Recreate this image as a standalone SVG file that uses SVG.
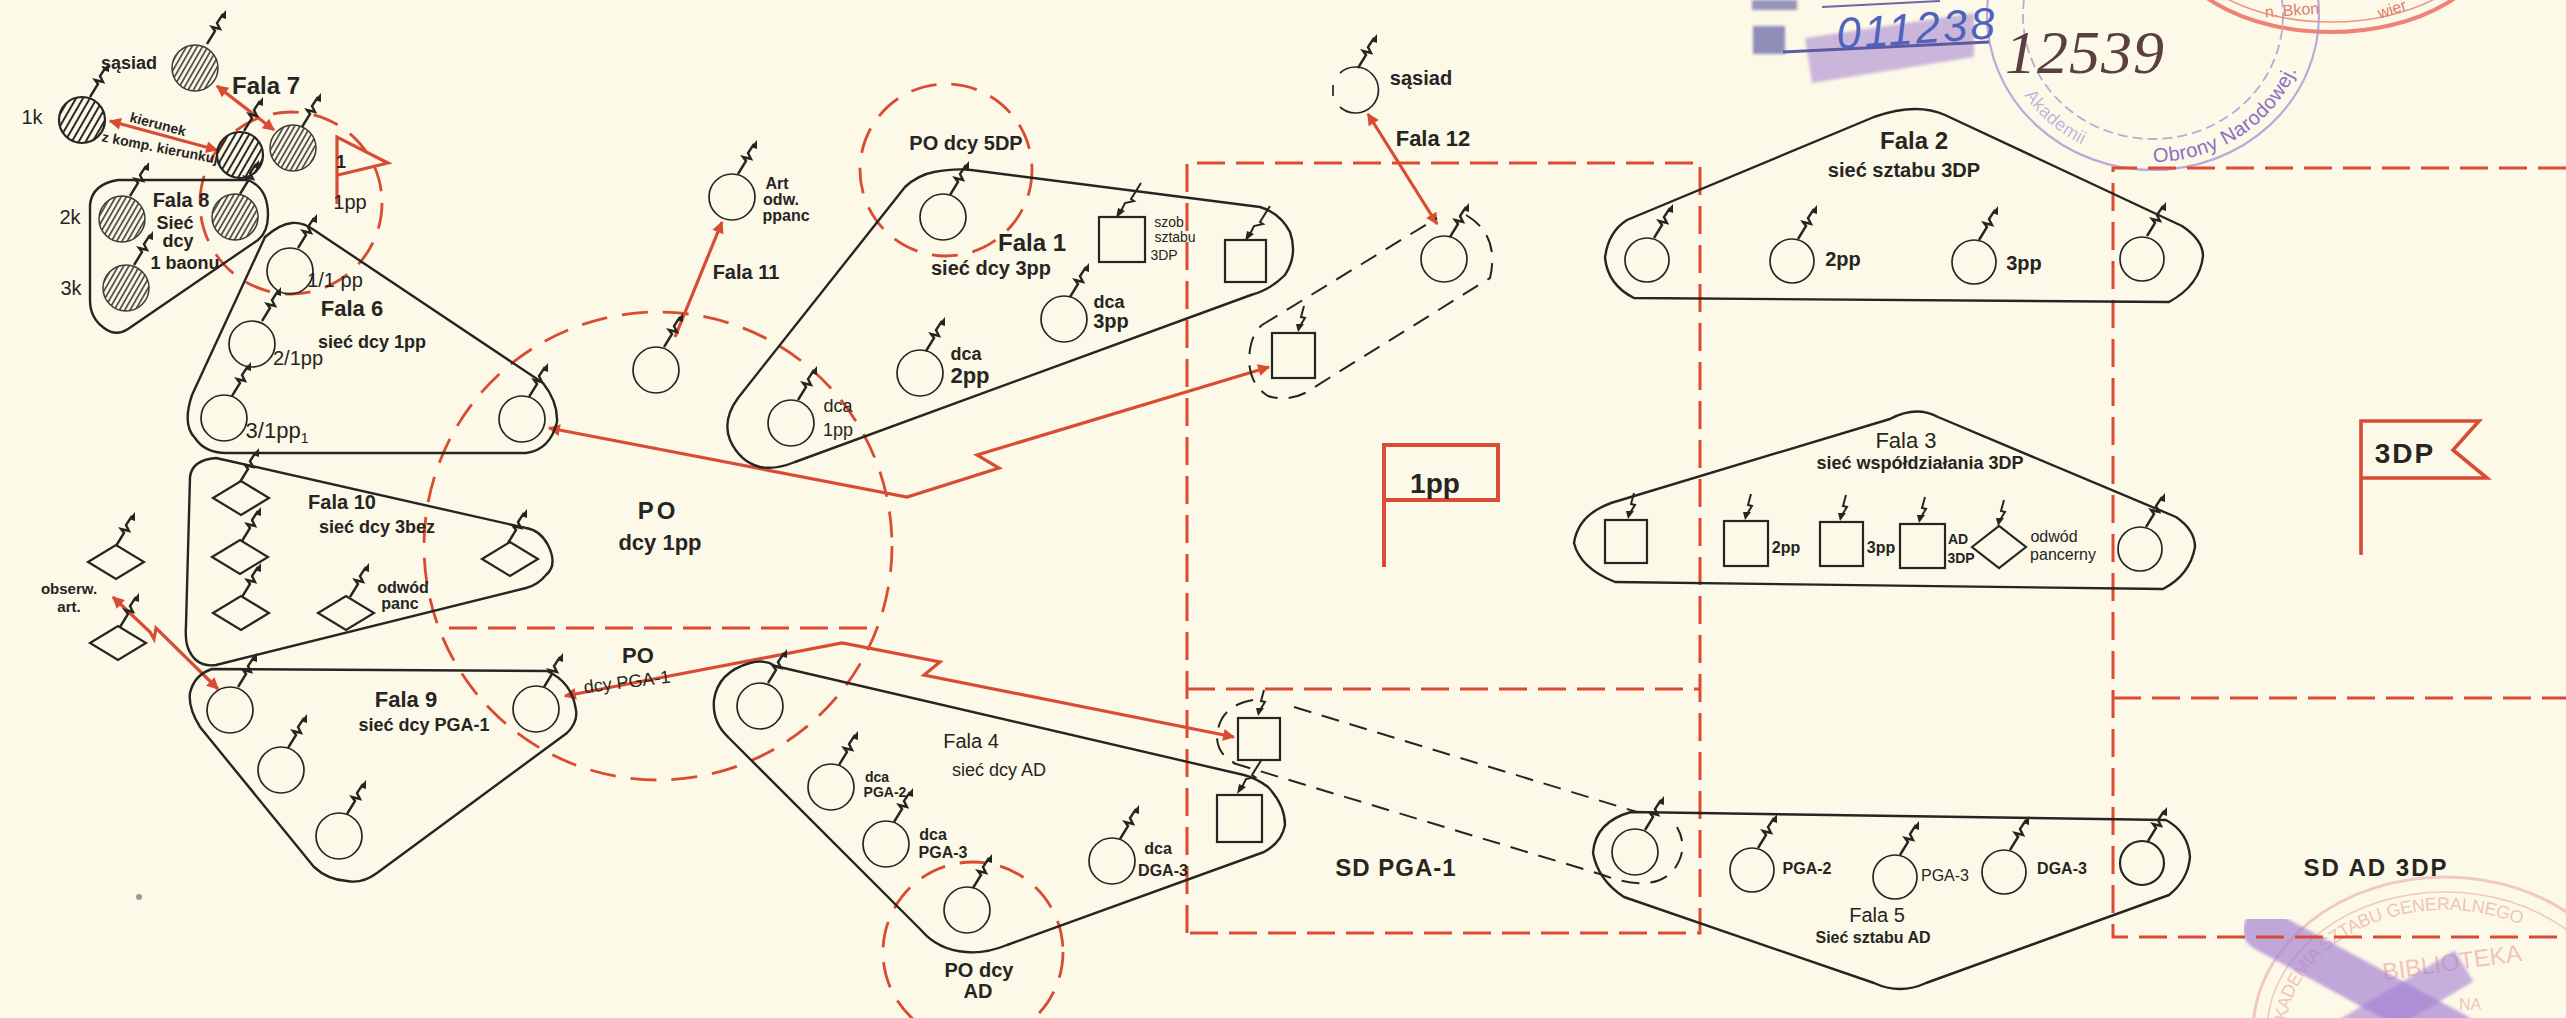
<svg xmlns="http://www.w3.org/2000/svg" width="2566" height="1018" viewBox="0 0 2566 1018">
<style>
text{font-family:"Liberation Sans",Arial,sans-serif;fill:#262522;text-anchor:middle;dominant-baseline:central}
.b{font-weight:700}
.s14{font-size:14px}.s16{font-size:16px}.s18{font-size:18px}.s20{font-size:20px}.s22{font-size:22px}.s24{font-size:24px}.s28{font-size:28px}
.ol{fill:none;stroke:#262522;stroke-width:2.4;stroke-linejoin:round}
.n{fill:none;stroke:#262522;stroke-width:1.7}
.sq{fill:none;stroke:#262522;stroke-width:2.2}
.hd{fill:url(#hd);stroke:#262522;stroke-width:2.2}
.hl{fill:url(#hl);stroke:#3c3b36;stroke-width:1.5}
.rd{fill:none;stroke:#d94b32;stroke-width:3;stroke-dasharray:28 11}
.rc{fill:none;stroke:#d94b32;stroke-width:2.8;stroke-dasharray:26 15}
.rf{fill:none;stroke:#d94b32;stroke-width:3.2}
.ra{fill:none;stroke:#d94b32;stroke-width:3.2;stroke-linejoin:miter;marker-end:url(#ah)}
.rb{fill:none;stroke:#d94b32;stroke-width:3.2;marker-end:url(#ah);marker-start:url(#ah)}
.bd{fill:none;stroke:#262522;stroke-width:2;stroke-dasharray:18 11}
</style>
<defs>
<filter id="soft" x="-10%" y="-10%" width="120%" height="120%"><feGaussianBlur stdDeviation="1.6"/></filter>
<pattern id="hd" width="6" height="6" patternUnits="userSpaceOnUse" patternTransform="rotate(30)"><rect width="2" height="6" fill="#2b2a27"/></pattern>
<pattern id="hl" width="4.6" height="4.6" patternUnits="userSpaceOnUse" patternTransform="rotate(30)"><rect width="1.7" height="4.6" fill="#4a4945"/></pattern>
<marker id="ah" viewBox="0 0 10 10" refX="9" refY="5" markerWidth="14" markerHeight="12" markerUnits="userSpaceOnUse" orient="auto-start-reverse"><path d="M0 0L10 5L0 10Z" fill="#d94b32"/></marker>
<g id="b" fill="none" stroke="#262522" stroke-width="2.4"><path d="M0 0L8 -13L5 -17L13 -15L10 -21L16 -30"/><path d="M13 -27L19 -34L19 -25Z" fill="#262522" stroke="none"/></g>
<g id="bs" fill="none" stroke="#262522" stroke-width="2"><path d="M24 -34L14 -18L17 -16L8 -14L4 -6"/><path d="M-1 1L8 -6L1 -9Z" fill="#262522" stroke="none"/></g>
<g id="bv" fill="none" stroke="#262522" stroke-width="2"><path d="M6 -26L3 -15L7 -14L2 -6"/><path d="M0 0L6 -8L-2 -8Z" fill="#262522" stroke="none"/></g>
<polygon id="d" points="-28,0 0,-17 28,0 0,17" class="sq"/>
<path id="purStamp" d="M2005 15A148 140 0 0 0 2301 15"/>
<path id="pinkArc" d="M2280 1032A165 128 0 0 1 2610 1032"/>
</defs>
<rect width="2566" height="1018" fill="#fcf9e8"/>

<g id="stamps">
<ellipse cx="2331" cy="-68" rx="165" ry="100" fill="none" stroke="#e8675a" stroke-width="4" opacity=".8"/>
<ellipse cx="2331" cy="-68" rx="155" ry="90" fill="none" stroke="#e8675a" stroke-width="1.5" opacity=".7"/>
<text x="2292" y="10" class="s16" style="fill:#d9806f" transform="rotate(-4 2292 10)">n. Bkon</text>
<text x="2392" y="9" class="s16" style="fill:#e0786a" transform="rotate(-18 2392 9)">wier</text>
<ellipse cx="2153" cy="15" rx="166" ry="155" fill="none" stroke="#a48fd6" stroke-width="2.2" opacity=".75"/>
<ellipse cx="2153" cy="15" rx="130" ry="124" fill="none" stroke="#8f74cc" stroke-width="1.8" stroke-dasharray="10 5" opacity=".6"/>
<text class="s20" style="fill:#8b6fc6;text-anchor:start"><textPath href="#purStamp" startOffset="50%">Obrony Narodowej.</textPath></text>
<text class="s18" style="fill:#a996d8;text-anchor:start" opacity=".7"><textPath href="#purStamp" startOffset="18%">Akademii</textPath></text>
<g filter="url(#soft)">
<polygon points="1805,38 1974,13 1974,57 1812,83" fill="#a27fcf" opacity=".55"/>
<rect x="1753" y="26" width="32" height="28" fill="#6b6aa8" opacity=".75"/>
<rect x="1752" y="0" width="45" height="10" fill="#6b6aa8" opacity=".7"/>
</g>
<path d="M1783 52L1989 42" stroke="#5b5aa0" stroke-width="3" fill="none"/>
<path d="M1822 7L1940 1" stroke="#6b6aa8" stroke-width="2" fill="none"/>
<text x="1917" y="28" class="s28" style="font-size:44px;font-style:italic;letter-spacing:3px;fill:#4f63bd" transform="rotate(-4 1917 28)">011238</text>
<text x="2085" y="52" style="font-family:'Liberation Serif',serif;font-size:62px;font-style:italic;fill:#5a3f3f;letter-spacing:1px">12539</text>
<ellipse cx="2445" cy="1032" rx="192" ry="155" fill="none" stroke="#f0c8c4" stroke-width="3"/>
<ellipse cx="2445" cy="1032" rx="178" ry="140" fill="none" stroke="#f0c8c4" stroke-width="1.6"/>
<text class="s18" style="fill:#f0c3be;text-anchor:start"><textPath href="#pinkArc">AKADEMIA SZTABU GENERALNEGO</textPath></text>
<text x="2452" y="962" class="s24" style="fill:#f0c3be" transform="rotate(-8 2452 962)">BIBLIOTEKA</text>
<text x="2470" y="1004" class="s16" style="fill:#f0c3be">NA</text>
<g filter="url(#soft)">
<path d="M2264 930L2456 1034" stroke="#a47fd2" stroke-width="42" stroke-linecap="round" opacity=".68" fill="none"/>
<path d="M2464 966L2340 1040" stroke="#a47fd2" stroke-width="36" opacity=".6" fill="none"/>
</g>
<circle cx="139" cy="897" r="3" fill="#9a9a90"/>
</g>

<g id="zones">
<path class="rd" d="M1187 933V163H1700V933H1187"/>
<path class="rd" d="M1187 689H1700"/>
<path class="rd" d="M2566 168H2113V937H2566"/>
<path class="rd" d="M2113 698H2566"/>
<path class="rd" d="M449 628H873"/>
<circle class="rc" cx="658" cy="546" r="234"/>
<circle class="rc" cx="291" cy="203" r="91"/>
<circle class="rc" cx="946" cy="170" r="86"/>
<circle class="rc" cx="973" cy="952" r="90"/>
</g>

<g id="connectors">
<path class="rb" d="M217 86L274 130"/>
<path class="rb" d="M110 121L217 150"/>
<path class="rb" d="M1368 114L1437 224"/>
<path class="ra" d="M675 337L722 222"/>
<path class="rb" d="M113 597L150 632L154 639L156 628L218 689"/>
<path class="rb" d="M549 428L907 497L999 468L977 455L1269 367"/>
<path class="rb" d="M565 696L842 643L940 662L924 675L1234 737"/>
<path class="bd" d="M1294 707L1637 812"/>
<path class="bd" d="M1233 763L1603 875Q1650 893 1672 872Q1690 850 1677 827"/>
<path class="bd" d="M1253 700Q1218 706 1217 738Q1218 755 1235 763"/>
<path class="bd" d="M1262 325L1437 218M1466 215Q1500 235 1490 278L1305 393Q1287 402 1268 396Q1250 385 1249 360Q1250 335 1262 325"/>
</g>

<g id="neighbour-a"><circle class="hl" cx="195" cy="68" r="23"/><use href="#b" x="207" y="44"/><text x="129" y="63" class="s18 b">sąsiad</text></g>
<g id="k1"><circle class="hd" cx="82" cy="120" r="23"/><use href="#b" x="90" y="97"/><text x="32" y="117" class="s20">1k</text></g>
<g id="cmd-a"><circle class="hd" cx="240" cy="155" r="23"/><use href="#b" x="244" y="131"/></g>
<g id="cmd-b"><circle class="hl" cx="293" cy="148" r="23"/><use href="#b" x="302" y="127"/></g>
<g id="fala7-label"><text x="266" y="85" class="s24 b">Fala 7</text>
<text x="158" y="124" class="s14 b" transform="rotate(15 158 124)">kierunek</text>
<text x="162" y="148" class="s14 b" transform="rotate(11 162 148)">z komp. kierunkuj.</text></g>
<g id="flag-1pp-small"><path class="rf" d="M337 204V137L388 163L338 175"/><text x="341" y="162" class="s18 b">1</text><text x="350" y="202" class="s20">1pp</text></g>

<g id="fala8"><path class="ol" d="M118 180L248 180Q268 188 268 215Q268 232 258 240L128 329Q116 337 104 328Q90 318 90 300L90 205Q92 184 118 180Z"/>
<circle class="hl" cx="122" cy="219" r="23"/><use href="#b" x="130" y="196"/>
<circle class="hl" cx="235" cy="217" r="23"/><use href="#b" x="240" y="194"/>
<circle class="hl" cx="126" cy="288" r="23"/><use href="#b" x="134" y="265"/>
<text x="70" y="217" class="s20">2k</text><text x="71" y="288" class="s20">3k</text>
<text x="181" y="200" class="s20 b">Fala 8</text><text x="175" y="223" class="s18 b">Sieć</text><text x="178" y="241" class="s18 b">dcy</text><text x="185" y="263" class="s18 b">1 baonu</text></g>

<g id="fala6"><path class="ol" d="M292 223Q280 224 265 237L192 395Q182 425 195 438Q205 453 226 453L526 453Q550 450 557 422Q558 402 543 383L314 230Q303 222 292 223Z"/>
<circle class="n" cx="290" cy="271" r="23"/><use href="#b" x="298" y="248"/>
<circle class="n" cx="252" cy="344" r="23"/><use href="#b" x="262" y="321"/>
<circle class="n" cx="224" cy="418" r="23"/><use href="#b" x="232" y="396"/>
<circle class="n" cx="522" cy="419" r="23"/><use href="#b" x="529" y="397"/>
<text x="335" y="280" class="s20">1/1 pp</text><text x="352" y="308" class="s22 b">Fala 6</text><text x="372" y="342" class="s18 b">sieć dcy 1pp</text>
<text x="298" y="358" class="s20">2/1pp</text><text x="277" y="430" class="s22">3/1pp<tspan dy="8" class="s14">1</tspan></text></g>

<g id="po-1pp"><text x="658" y="510" class="s24 b" style="letter-spacing:3px">PO</text><text x="660" y="542" class="s22 b">dcy 1pp</text></g>
<g id="po-pga1"><text x="638" y="655" class="s22 b">PO</text><text x="627" y="682" class="s18" transform="rotate(-7 627 682)">dcy PGA-1</text></g>

<g id="art"><circle class="n" cx="656" cy="370" r="23"/><use href="#b" x="664" y="347"/></g>
<g id="art-ppanc"><circle class="n" cx="732" cy="197" r="23"/><use href="#b" x="738" y="174"/><text x="777" y="183" class="s16 b">Art</text><text x="781" y="199" class="s16 b">odw.</text><text x="786" y="215" class="s16 b">ppanc</text></g>
<text x="746" y="272" class="s20 b">Fala 11</text>

<g id="fala10"><path class="ol" d="M216 458L526 528Q540 530 548 545Q558 565 546 575Q538 585 526 588L216 665Q196 668 188 648Q185 640 186 625L190 477Q192 460 216 458Z"/>
<use href="#d" x="241" y="498"/><use href="#b" x="240" y="482"/>
<use href="#d" x="240" y="557"/><use href="#b" x="242" y="541"/>
<use href="#d" x="241" y="613"/><use href="#b" x="242" y="597"/>
<use href="#d" x="346" y="613"/><use href="#b" x="350" y="597"/>
<use href="#d" x="510" y="559"/><use href="#b" x="508" y="543"/>
<text x="342" y="502" class="s20 b">Fala 10</text><text x="377" y="527" class="s18 b">sieć dcy 3bez</text><text x="403" y="587" class="s16 b">odwód</text><text x="400" y="603" class="s16 b">panc</text></g>
<g id="obs-a"><use href="#d" x="116" y="562"/><use href="#b" x="116" y="546"/></g>
<g id="obs-b"><use href="#d" x="118" y="643"/><use href="#b" x="120" y="627"/><text x="69" y="588" class="s14 b" style="font-size:15px">obserw.</text><text x="69" y="606" class="s14 b" style="font-size:15px">art.</text></g>

<g id="fala9"><path class="ol" d="M212 669L547 671Q572 682 576 710Q578 722 567 733L377 873Q362 884 347 881Q328 880 314 867L200 727Q188 708 190 693Q194 675 212 669Z"/>
<circle class="n" cx="230" cy="710" r="23"/><use href="#b" x="238" y="687"/>
<circle class="n" cx="281" cy="770" r="23"/><use href="#b" x="288" y="748"/>
<circle class="n" cx="339" cy="836" r="23"/><use href="#b" x="347" y="814"/>
<circle class="n" cx="536" cy="709" r="23"/><use href="#b" x="544" y="687"/>
<text x="406" y="699" class="s22 b">Fala 9</text><text x="424" y="725" class="s18 b">sieć dcy PGA-1</text></g>

<g id="fala1"><path class="ol" d="M934 172Q955 168 971 170L1260 207Q1280 213 1290 232Q1298 255 1285 275Q1270 290 1251 295L795 462Q775 470 760 467Q740 462 730 440Q722 420 738 398L905 187Q918 175 934 172Z"/>
<circle class="n" cx="943" cy="217" r="23"/><use href="#b" x="950" y="195"/>
<circle class="n" cx="1064" cy="319" r="23"/><use href="#b" x="1070" y="297"/>
<circle class="n" cx="920" cy="373" r="23"/><use href="#b" x="926" y="351"/>
<circle class="n" cx="791" cy="423" r="23"/><use href="#b" x="798" y="400"/>
<rect class="sq" x="1099" y="217" width="46" height="45"/><use href="#bs" x="1117" y="217"/>
<rect class="sq" x="1225" y="240" width="41" height="42"/><use href="#bs" x="1246" y="240"/>
<text x="966" y="143" class="s20 b">PO dcy 5DP</text><text x="1032" y="242" class="s24 b">Fala 1</text><text x="991" y="268" class="s20 b">sieć dcy 3pp</text>
<text x="1169" y="222" class="s14">szob</text><text x="1175" y="237" class="s14">sztabu</text><text x="1164" y="255" class="s14">3DP</text>
<text x="1109" y="302" class="s18 b">dca</text><text x="1111" y="321" class="s20 b">3pp</text><text x="966" y="354" class="s18 b">dca</text><text x="970" y="375" class="s22 b">2pp</text>
<text x="838" y="406" class="s18">dca</text><text x="838" y="430" class="s18">1pp</text></g>

<g id="neighbour-b"><path class="n" d="M1340 73A23 23 0 1 1 1340 107"/><path class="n" d="M1333 85V96"/><use href="#b" x="1358" y="68"/><text x="1421" y="78" class="s20 b">sąsiad</text><text x="1433" y="138" class="s22 b">Fala 12</text></g>
<g id="fala12-node"><circle class="n" cx="1444" cy="259" r="23"/><use href="#b" x="1450" y="237"/></g>
<g id="fala12-sq"><rect class="sq" x="1272" y="333" width="43" height="45"/><use href="#bv" x="1298" y="332"/></g>

<g id="flag-1pp"><path class="rf" style="stroke-width:4" d="M1384 567V445H1498V500H1384"/><text x="1435" y="483" class="s28 b">1pp</text></g>

<g id="fala2"><path class="ol" d="M1874 117Q1916 102 1945 115L2182 226Q2203 240 2203 256Q2200 285 2169 302L1634 298Q1608 285 1605 258Q1608 232 1627 220Z"/>
<circle class="n" cx="1647" cy="260" r="22"/><use href="#b" x="1654" y="238"/>
<circle class="n" cx="1792" cy="261" r="22"/><use href="#b" x="1798" y="239"/>
<circle class="n" cx="1974" cy="262" r="22"/><use href="#b" x="1979" y="240"/>
<circle class="n" cx="2142" cy="259" r="22"/><use href="#b" x="2147" y="236"/>
<text x="1914" y="140" class="s24 b">Fala 2</text><text x="1904" y="170" class="s20 b">sieć sztabu 3DP</text><text x="1843" y="259" class="s20 b">2pp</text><text x="2024" y="263" class="s20 b">3pp</text></g>

<g id="fala3"><path class="ol" d="M1890 419Q1916 405 1938 417L2176 517Q2195 530 2195 547Q2190 575 2163 589L1615 582Q1580 568 1574 543Q1578 515 1611 503Z"/>
<rect class="sq" x="1605" y="520" width="42" height="43"/><use href="#bv" x="1628" y="519"/>
<rect class="sq" x="1724" y="521" width="44" height="45"/><use href="#bv" x="1745" y="520"/>
<rect class="sq" x="1820" y="522" width="43" height="44"/><use href="#bv" x="1840" y="521"/>
<rect class="sq" x="1900" y="524" width="45" height="44"/><use href="#bv" x="1919" y="523"/>
<polygon class="sq" points="1972,547 1999,526 2026,547 1999,568"/><use href="#bv" x="1998" y="526"/>
<circle class="n" cx="2140" cy="549" r="22"/><use href="#b" x="2146" y="527"/>
<text x="1906" y="440" class="s22">Fala 3</text><text x="1920" y="463" class="s18 b">sieć współdziałania 3DP</text>
<text x="1786" y="547" class="s16 b">2pp</text><text x="1881" y="547" class="s16 b">3pp</text><text x="1958" y="539" class="s14 b">AD</text><text x="1961" y="558" class="s14 b">3DP</text>
<text x="2054" y="536" class="s16">odwód</text><text x="2063" y="554" class="s16">pancerny</text></g>

<g id="flag-3dp"><path class="rf" style="stroke-width:3.6" d="M2361 555V421H2479L2453 450L2487 478H2361"/><text x="2405" y="453" class="s28 b" style="letter-spacing:2px">3DP</text></g>

<g id="fala4"><path class="ol" d="M750 663Q765 659 775 666L1244 775Q1256 778 1268 787Q1285 805 1285 825Q1282 842 1264 852L1007 945Q985 954 966 952Q938 950 921 930L728 737Q712 722 714 700Q718 672 750 663Z"/>
<circle class="n" cx="760" cy="706" r="23"/><use href="#b" x="768" y="683"/>
<circle class="n" cx="831" cy="787" r="23"/><use href="#b" x="839" y="765"/>
<circle class="n" cx="886" cy="844" r="23"/><use href="#b" x="894" y="822"/>
<circle class="n" cx="967" cy="910" r="23"/><use href="#b" x="973" y="888"/>
<circle class="n" cx="1112" cy="861" r="23"/><use href="#b" x="1120" y="839"/>
<rect class="sq" x="1238" y="718" width="42" height="42"/><use href="#bv" x="1258" y="716"/>
<rect class="sq" x="1217" y="795" width="45" height="47"/><use href="#bs" x="1238" y="793"/>
<text x="971" y="741" class="s20">Fala 4</text><text x="999" y="770" class="s18">sieć dcy AD</text>
<text x="877" y="777" class="s14 b">dca</text><text x="885" y="792" class="s14 b">PGA-2</text><text x="933" y="834" class="s16 b">dca</text><text x="943" y="852" class="s16 b">PGA-3</text>
<text x="1158" y="848" class="s16 b">dca</text><text x="1163" y="870" class="s16 b">DGA-3</text>
<text x="979" y="970" class="s20 b">PO dcy</text><text x="978" y="991" class="s20 b">AD</text></g>

<g id="fala5"><path class="ol" d="M1631 812L2166 820Q2188 832 2190 857Q2188 880 2169 895L1926 983Q1900 995 1874 983L1624 897Q1598 880 1593 853Q1595 822 1631 812Z"/>
<circle class="n" cx="1635" cy="852" r="23"/><use href="#b" x="1645" y="830"/>
<circle class="n" cx="1752" cy="870" r="22"/><use href="#b" x="1758" y="848"/>
<circle class="n" cx="1895" cy="877" r="22"/><use href="#b" x="1900" y="855"/>
<circle class="n" cx="2004" cy="872" r="22"/><use href="#b" x="2010" y="850"/>
<circle class="n" style="stroke-width:2.2" cx="2142" cy="863" r="22"/><use href="#b" x="2148" y="841"/>
<text x="1807" y="868" class="s16 b">PGA-2</text><text x="1945" y="875" class="s16">PGA-3</text><text x="2062" y="868" class="s16 b">DGA-3</text>
<text x="1877" y="915" class="s20">Fala 5</text><text x="1873" y="937" class="s16 b">Sieć sztabu AD</text></g>

<g id="sd-labels"><text x="1396" y="867" class="s24 b" style="letter-spacing:1px">SD PGA-1</text><text x="2376" y="867" class="s24 b" style="letter-spacing:2px">SD AD 3DP</text></g>
</svg>
